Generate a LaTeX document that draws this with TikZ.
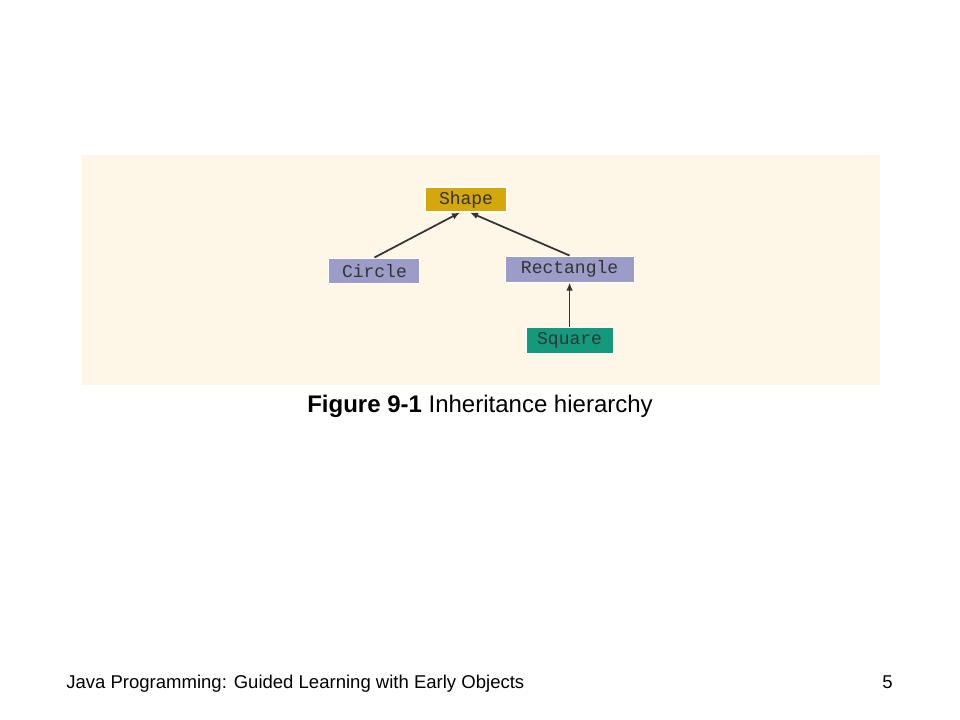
\documentclass[tikz,border=0pt]{standalone}
\usepackage{fontspec}
\setmainfont{Liberation Sans}
\setmonofont{Liberation Mono}
\usetikzlibrary{positioning,arrows.meta}
\definecolor{panelbg}{HTML}{FEF6E6}
\definecolor{shapegold}{HTML}{D4A80A}
\definecolor{childblue}{HTML}{9C9CC8}
\definecolor{leafteal}{HTML}{139A7C}
\definecolor{boxtext}{HTML}{333333}

\begin{document}
\begin{tikzpicture}[x=0.75pt, y=-0.75pt,
        classnode/.style={rectangle, draw=white, line width=0.8pt, inner sep=0pt, minimum height=18.75pt, text=boxtext, font=\ttfamily\fontsize{13.5}{13.5}\selectfont},
        rootnode/.style={classnode, fill=shapegold, minimum width=61.5pt},
        childnode/.style={classnode, fill=childblue},
        leafnode/.style={classnode, fill=leafteal, minimum width=65.25pt, minimum height=19.5pt},
        inherit/.style={draw=boxtext, line width=1.3pt, -{Latex[length=6pt,width=5pt]}},
        ]
        \useasboundingbox (0,0) rectangle (960,720);
        %Panel
        \fill[panelbg] (82,155) rectangle (880,385);
        %Nodes
        \node[rootnode] (shape) at (466,199.5) {Shape};
        \node[childnode, minimum width=68.25pt] [below left=33.75pt and 3pt of shape] (circle) {Circle};
        \node[childnode, minimum width=96.75pt, minimum height=19.5pt] [below right=32.25pt and -2.25pt of shape] (rectangle) {Rectangle};
        \node[leafnode] [below=33pt of rectangle] (square) {Square};

        \draw [inherit] (circle.north) -- ([xshift=-4.5pt]shape.south);
        \draw [inherit] (rectangle.north) -- ([xshift=3pt]shape.south);
        \draw [inherit] (square.north) -- (rectangle.south);
        %Texts
        \node[anchor=base, inner sep=0pt, font=\fontsize{18}{18}\selectfont] (caption) at (480,412) {\textbf{Figure 9-1} Inheritance hierarchy};
        \node[anchor=base west, inner sep=0pt, font=\fontsize{13.9}{13.9}\selectfont] (footer) at (66,688) {Java Programming: Guided Learning with Early Objects};
        \node[anchor=base east, inner sep=0pt, font=\fontsize{13.9}{13.9}\selectfont] (pagenum) at (893,688) {5};
    \end{tikzpicture}
\end{document}
